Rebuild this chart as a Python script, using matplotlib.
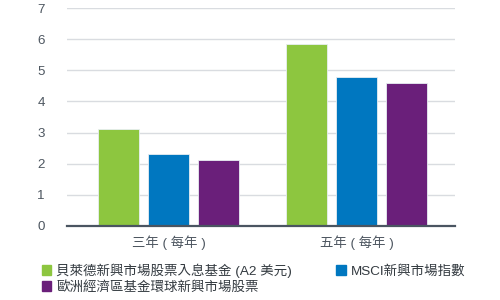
import numpy as np
import matplotlib
matplotlib.use("Agg")
import matplotlib.pyplot as plt
from matplotlib.patches import Patch

plt.rcParams['font.family'] = ['Liberation Sans', 'Noto Sans CJK TC', 'DejaVu Sans']

categories = ["三年 ( 每年 )", "五年 ( 每年 )"]
series_names = ["貝萊德新興市場股票入息基金 (A2 美元)", "MSCI新興市場指數", "歐洲經濟區基金環球新興市場股票"]
fund = [3.13, 5.84]
msci = [2.30, 4.77]
peers = [2.11, 4.58]
colors = ["#8DC63F", "#0077C0", "#6A1F7A"]
yticks = [0, 1, 2, 3, 4, 5, 6, 7]

fig = plt.figure(figsize=(5, 3), dpi=100)
ax = fig.add_axes([0.134, 0.247, 0.776, 0.726])

x = np.arange(len(categories))
width = 0.218
step = 0.266
for i, (vals, col) in enumerate(zip([fund, msci, peers], colors)):
    ax.bar(x + (i - 1) * step, vals, width, color=col, edgecolor="#e8eef2",
           linewidth=0.6, zorder=3)

ax.set_xlim(-0.54, 1.524)
ax.set_ylim(0, 7)
ax.set_yticks(yticks)
ax.set_xticks(x)
ax.set_xticklabels(categories, fontsize=9.6)
ax.grid(axis="y", color="#d9dce0", linewidth=1.0, zorder=0)
ax.tick_params(length=0, labelsize=9.6, colors="#4d5660")
ax.tick_params(axis="y", pad=16)
ax.tick_params(axis="x", pad=7)
for s in ["top", "right", "left"]:
    ax.spines[s].set_visible(False)
ax.spines["bottom"].set_color("#4a5561")
ax.spines["bottom"].set_linewidth(1.6)
ax.spines["bottom"].set_zorder(4)

handles = [Patch(color=colors[0], label=series_names[0]),
           Patch(color=colors[2], label=series_names[2]),
           Patch(color=colors[1], label=series_names[1])]
fig.legend(handles=handles, ncol=2, loc="upper left", bbox_to_anchor=(0.084, 0.123),
           frameon=False, fontsize=9.7, handlelength=0.7, handleheight=0.7,
           handletextpad=0.35, columnspacing=3.3, labelspacing=0.25,
           labelcolor="#333a40", borderpad=0, borderaxespad=0)

fig.savefig("out.png", dpi=100)
